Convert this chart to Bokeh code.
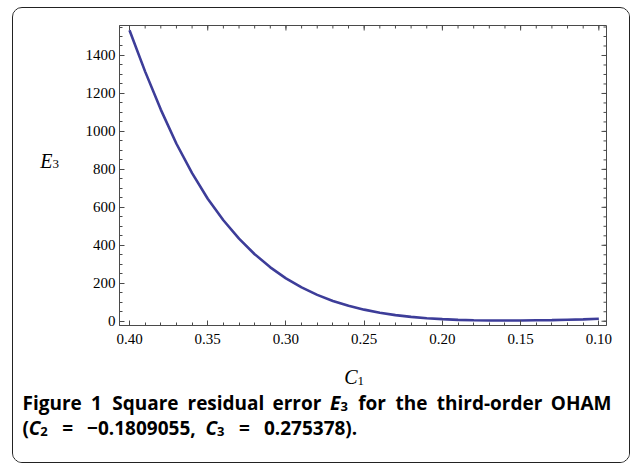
from bokeh.plotting import figure
from bokeh.models import Range1d, LinearAxis, FixedTicker, Label
from bokeh.layouts import column, row
from bokeh.embed import file_html
from bokeh.resources import INLINE

# ---- data ----
c1_values = [0.40, 0.39, 0.38, 0.37, 0.36, 0.35, 0.34, 0.33, 0.32, 0.31, 0.30,
             0.29, 0.28, 0.27, 0.26, 0.25, 0.24, 0.23, 0.22, 0.21, 0.20,
             0.19, 0.18, 0.17, 0.16, 0.15, 0.14, 0.13, 0.12, 0.11, 0.10]
e3_values = [1533, 1315, 1115, 935, 780, 645, 532, 435, 353, 284, 226,
             178, 139, 107, 81, 61, 45, 32, 23, 16, 11,
             7, 5, 4, 4, 4, 5, 6, 8, 10, 13]

x_tick_values = [0.40, 0.35, 0.30, 0.25, 0.20, 0.15, 0.10]
x_tick_labels = ["0.40", "0.35", "0.30", "0.25", "0.20", "0.15", "0.10"]
x_minor_values = [0.40, 0.39, 0.38, 0.37, 0.36, 0.35, 0.34, 0.33, 0.32, 0.31, 0.30,
                  0.29, 0.28, 0.27, 0.26, 0.25, 0.24, 0.23, 0.22, 0.21, 0.20,
                  0.19, 0.18, 0.17, 0.16, 0.15, 0.14, 0.13, 0.12, 0.11, 0.10]
y_tick_values = [0, 200, 400, 600, 800, 1000, 1200, 1400]
y_tick_labels = ["0", "200", "400", "600", "800", "1000", "1200", "1400"]
y_minor_values = [0, 50, 100, 150, 200, 250, 300, 350, 400, 450, 500, 550, 600, 650,
                  700, 750, 800, 850, 900, 950, 1000, 1050, 1100, 1150, 1200, 1250,
                  1300, 1350, 1400, 1450, 1500, 1550]

x_label_main, x_label_sub = "C", "1"
y_label_main, y_label_sub = "E", "3"
caption_words = ["Figure", "1", "Square", "residual", "error"]
caption_e, caption_e_sub = "E", "3"
caption_words2 = ["for", "the", "third-order"]
caption_last = "OHAM"
# second caption line: ( C2 = -0.1809055, C3 = 0.275378).
cap2_open = "("
cap2_c = "C"
cap2_sub_a, cap2_sub_b = "2", "3"
cap2_eq = "="
cap2_val_a = "\u22120.1809055,"
cap2_val_b = "0.275378)."

# ---- layout (page px) ----
CX0, CY0, CX1, CY1 = 13, 8, 629, 462      # content box inside rounded border
SPLIT_Y = 354                              # chart row / caption row
PX = 70                                    # start of chart figure
FL, FR, FT, FB = 119, 606, 25, 325         # plot frame
X0, X1 = 0.4064, 0.0951                    # reversed x range
Y0, Y1 = -22.5, 1558.0

AXC = "#4a4a4a"
SERIF = "Liberation Serif"
SANS = "Open Sans"
CAP = "19px"
CAPSUB = "13px"


def blank_fig(x0, x1, y0, y1):
    f = figure(width=x1 - x0, height=y1 - y0, output_backend="svg",
               toolbar_location=None, x_range=Range1d(x0, x1),
               y_range=Range1d(y1, y0), x_axis_type=None, y_axis_type=None,
               min_border=0, min_border_left=0, min_border_right=0,
               min_border_top=0, min_border_bottom=0)
    f.outline_line_color = None
    f.background_fill_color = "white"
    f.border_fill_color = "white"
    return f


def lab(f, x, y, text, font, size, style="normal", align="left"):
    f.add_layout(Label(x=x, y=y, text=text, text_font=font,
                       text_font_size=size, text_font_style=style,
                       text_align=align, text_baseline="alphabetic",
                       text_color="black"))


# ---- main chart ----
p = figure(width=CX1 - PX, height=SPLIT_Y - CY0, output_backend="svg",
           toolbar_location=None, x_range=Range1d(X0, X1), y_range=Range1d(Y0, Y1),
           x_axis_type=None, y_axis_type=None,
           min_border_left=FL - PX, min_border_right=CX1 - FR,
           min_border_top=FT - CY0, min_border_bottom=SPLIT_Y - FB)
p.outline_line_color = AXC
p.outline_line_width = 1
p.background_fill_color = "white"
p.border_fill_color = "white"


def make_axis(ticks, minors, labels, standoff):
    ax = LinearAxis(ticker=FixedTicker(ticks=ticks, minor_ticks=minors))
    ax.major_label_overrides = {v: s for v, s in zip(ticks, labels)}
    ax.axis_line_color = AXC
    ax.major_tick_line_color = AXC
    ax.minor_tick_line_color = AXC
    ax.major_tick_in = 5
    ax.major_tick_out = 0
    ax.minor_tick_in = 3
    ax.minor_tick_out = 0
    ax.major_label_text_font = SERIF
    ax.major_label_text_font_size = "15px"
    ax.major_label_text_color = "black"
    ax.major_label_standoff = standoff
    return ax


p.add_layout(make_axis(x_tick_values, x_minor_values, x_tick_labels, 8), "below")
p.add_layout(make_axis(y_tick_values, y_minor_values, y_tick_labels, 4), "left")

# mirrored inward ticks on top and right edges of the frame
xpp = (X0 - X1) / (FR - FL)
ypp = (Y1 - Y0) / (FB - FT)
for vals, ln in ((x_tick_values, 5), (x_minor_values, 3)):
    p.segment(x0=vals, y0=[Y1] * len(vals), x1=vals, y1=[Y1 - ln * ypp] * len(vals),
              line_color=AXC, line_width=1)
for vals, ln in ((y_tick_values, 5), (y_minor_values, 3)):
    p.segment(x0=[X1] * len(vals), y0=vals, x1=[X1 + ln * xpp] * len(vals), y1=vals,
              line_color=AXC, line_width=1)

p.line(c1_values, e3_values, line_color="#3d3d99", line_width=2.6)

# ---- y-axis title strip ----
pe = blank_fig(CX0, PX, CY0, SPLIT_Y)
lab(pe, 52, 164, y_label_main, SERIF, "20px", "italic", "right")
lab(pe, 52, 168, y_label_sub, SERIF, "13px", "normal", "left")

# ---- x-axis title + caption ----
pc = blank_fig(CX0, CX1, SPLIT_Y, CY1)
lab(pc, 357, 376, x_label_main, SERIF, "20px", "italic", "right")
lab(pc, 357, 380, x_label_sub, SERIF, "13px", "normal", "left")

L1, L2 = 402, 427
xs1 = [22, 90.6, 111.7, 187.0, 272.0]
for x, w in zip(xs1, caption_words):
    lab(pc, x, L1, w, SANS, CAP, "bold")
lab(pc, 329.5, L1, caption_e, SANS, CAP, "bold italic")
lab(pc, 340.1, L1 + 4, caption_e_sub, SANS, CAPSUB, "bold")
xs2 = [357.7, 395.0, 436.3]
for x, w in zip(xs2, caption_words2):
    lab(pc, x, L1, w, SANS, CAP, "bold")
lab(pc, 611, L1, caption_last, SANS, CAP, "bold", "right")

lab(pc, 22, L2, cap2_open, SANS, CAP, "bold")
lab(pc, 28.3, L2, cap2_c, SANS, CAP, "bold italic")
lab(pc, 39.7, L2 + 4, cap2_sub_a, SANS, CAPSUB, "bold")
lab(pc, 61.7, L2, cap2_eq, SANS, CAP, "bold")
lab(pc, 86.6, L2, cap2_val_a, SANS, CAP, "bold")
lab(pc, 205.1, L2, cap2_c, SANS, CAP, "bold italic")
lab(pc, 216.5, L2 + 4, cap2_sub_b, SANS, CAPSUB, "bold")
lab(pc, 238.5, L2, cap2_eq, SANS, CAP, "bold")
lab(pc, 263.4, L2, cap2_val_b, SANS, CAP, "bold")

layout = column(row(pe, p), pc,
                styles={"margin-left": "12px", "margin-top": "7px",
                        "border": "1px solid #222222", "border-radius": "10px",
                        "overflow": "hidden"})

open("out.html", "w").write(file_html(layout, INLINE))
